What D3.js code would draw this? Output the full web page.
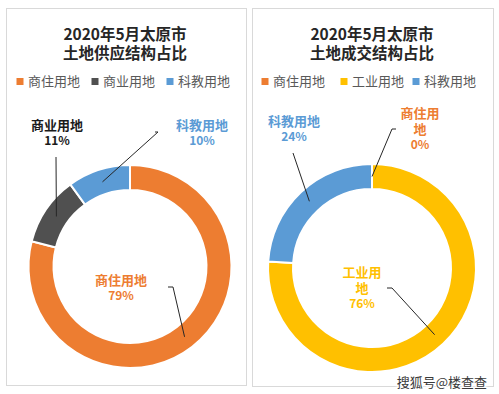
<!DOCTYPE html>
<html><head><meta charset="utf-8">
<script src="https://cdn.jsdelivr.net/npm/d3@7"></script>
<style>
html,body{margin:0;padding:0;background:#fff;}
svg{display:block;font-family:"Noto Sans CJK SC","Noto Sans",sans-serif;}
</style></head>
<body>
<svg id="c" width="499" height="394"></svg>
<script>
// ---- data ----
const supplyTitle = ["2020年5月太原市", "土地供应结构占比"];
const supplyCategories = ["商住用地", "商业用地", "科教用地"];
const supplyValues = [79, 11, 10];
const supplyLabels = ["79%", "11%", "10%"];

const dealTitle = ["2020年5月太原市", "土地成交结构占比"];
const dealCategories = ["商住用地", "工业用地", "科教用地"];
const dealValues = [0, 76, 24];
const dealLabels = ["0%", "76%", "24%"];

const footerText = "搜狐号@楼查查";

// ---- styling / layout ----
const colorMap = {"商住用地":"#ED7D31","商业用地":"#505050","科教用地":"#5B9BD5","工业用地":"#FFC000"};
const labelColor = {"商住用地":"#ED7D31","商业用地":"#1a1a1a","科教用地":"#5B9BD5","工业用地":"#FFC000"};

const svg = d3.select("#c");

const panels = [
  {x:6, y:8, w:240, h:377, title:supplyTitle, cats:supplyCategories, vals:supplyValues, pct:supplyLabels,
   cx:130, cy:266.5, ri:76.5, ro:101.5, titleX:125,
   legendX:[20,95,170],
   labels:[
     {lines:["商住用地"], x:121, y:280, lx:[168,173]},
     {lines:["商业用地"], x:57, y:125, lx:[56,56], ly:157, vertical:true},
     {lines:["科教用地"], x:202, y:125, lx:[155,158], ly:132}
   ]},
  {x:252, y:8, w:241, h:378, title:dealTitle, cats:dealCategories, vals:dealValues, pct:dealLabels,
   cx:372, cy:268, ri:79, ro:104, titleX:372,
   legendX:[265,344,416],
   labels:[
     {lines:["商住用","地"], x:420, y:113, lx:[396,392], ly:129},
     {lines:["工业用","地"], x:362, y:272, lx:[387,392], ly:288},
     {lines:["科教用地"], x:294, y:121, lx:[293,293], ly:153, vertical:true}
   ]}
];
panels[0].labels[0].ly = 287;

panels.forEach(p => {
  const g = svg.append("g");
  g.append("rect").attr("x", p.x+0.5).attr("y", p.y+0.5).attr("width", p.w).attr("height", p.h)
    .attr("fill", "#fff").attr("stroke", "#D9D9D9").attr("stroke-width", 1);

  // title
  p.title.forEach((t, i) => {
    g.append("text").attr("x", p.titleX).attr("y", 34 + i*19).attr("dy", "0.36em")
      .attr("text-anchor", "middle").attr("font-size", 15.5).attr("font-weight", 700)
      .attr("fill", "#262626").text(t);
  });

  // legend
  p.cats.forEach((c, i) => {
    const lx = p.legendX[i];
    g.append("rect").attr("x", lx-3.5).attr("y", 78).attr("width", 7).attr("height", 7)
      .attr("fill", colorMap[c]);
    g.append("text").attr("x", lx+8).attr("y", 81.5).attr("dy", "0.36em")
      .attr("font-size", 13).attr("fill", "#595959").text(c);
  });

  // donut
  const pie = d3.pie().sort(null).value(d => d.v).startAngle(0).endAngle(2*Math.PI);
  const arcs = pie(p.cats.map((c, i) => ({c, v:p.vals[i], pct:p.pct[i]})));
  const arc = d3.arc().innerRadius(p.ri).outerRadius(p.ro);
  const dg = g.append("g").attr("transform", `translate(${p.cx},${p.cy})`);
  dg.selectAll("path").data(arcs).join("path")
    .attr("d", arc).attr("fill", d => colorMap[d.data.c])
    .attr("stroke", "#fff").attr("stroke-width", 2);

  // labels + leader lines
  arcs.forEach((a, i) => {
    const L = p.labels[i];
    const [ccx, ccy] = arc.centroid(a);
    const ex = p.cx + ccx, ey = p.cy + ccy;
    const pts = L.vertical ? [[L.lx[0], L.ly], [ex, ey]]
                           : [[L.lx[0], L.ly], [L.lx[1], L.ly], [ex, ey]];
    g.append("path").attr("d", d3.line()(pts)).attr("fill", "none")
      .attr("stroke", "#262626").attr("stroke-width", 1);
    const col = labelColor[a.data.c];
    const lines = L.lines.concat([a.data.pct]);
    lines.forEach((t, j) => {
      const isPct = j === lines.length - 1;
      g.append("text").attr("x", L.x).attr("y", L.y + j*16).attr("dy", "0.36em")
        .attr("text-anchor", "middle").attr("font-size", isPct ? 12 : 13)
        .attr("font-weight", 700).attr("fill", col).text(t);
    });
  });
});

// footer
svg.append("text").attr("x", 487).attr("y", 382).attr("dy", "0.36em")
  .attr("text-anchor", "end").attr("font-size", 13)
  .attr("fill", "#3a3a3a").attr("stroke", "#fff").attr("stroke-width", 2.5)
  .attr("paint-order", "stroke").text(footerText);
</script>
</body></html>
